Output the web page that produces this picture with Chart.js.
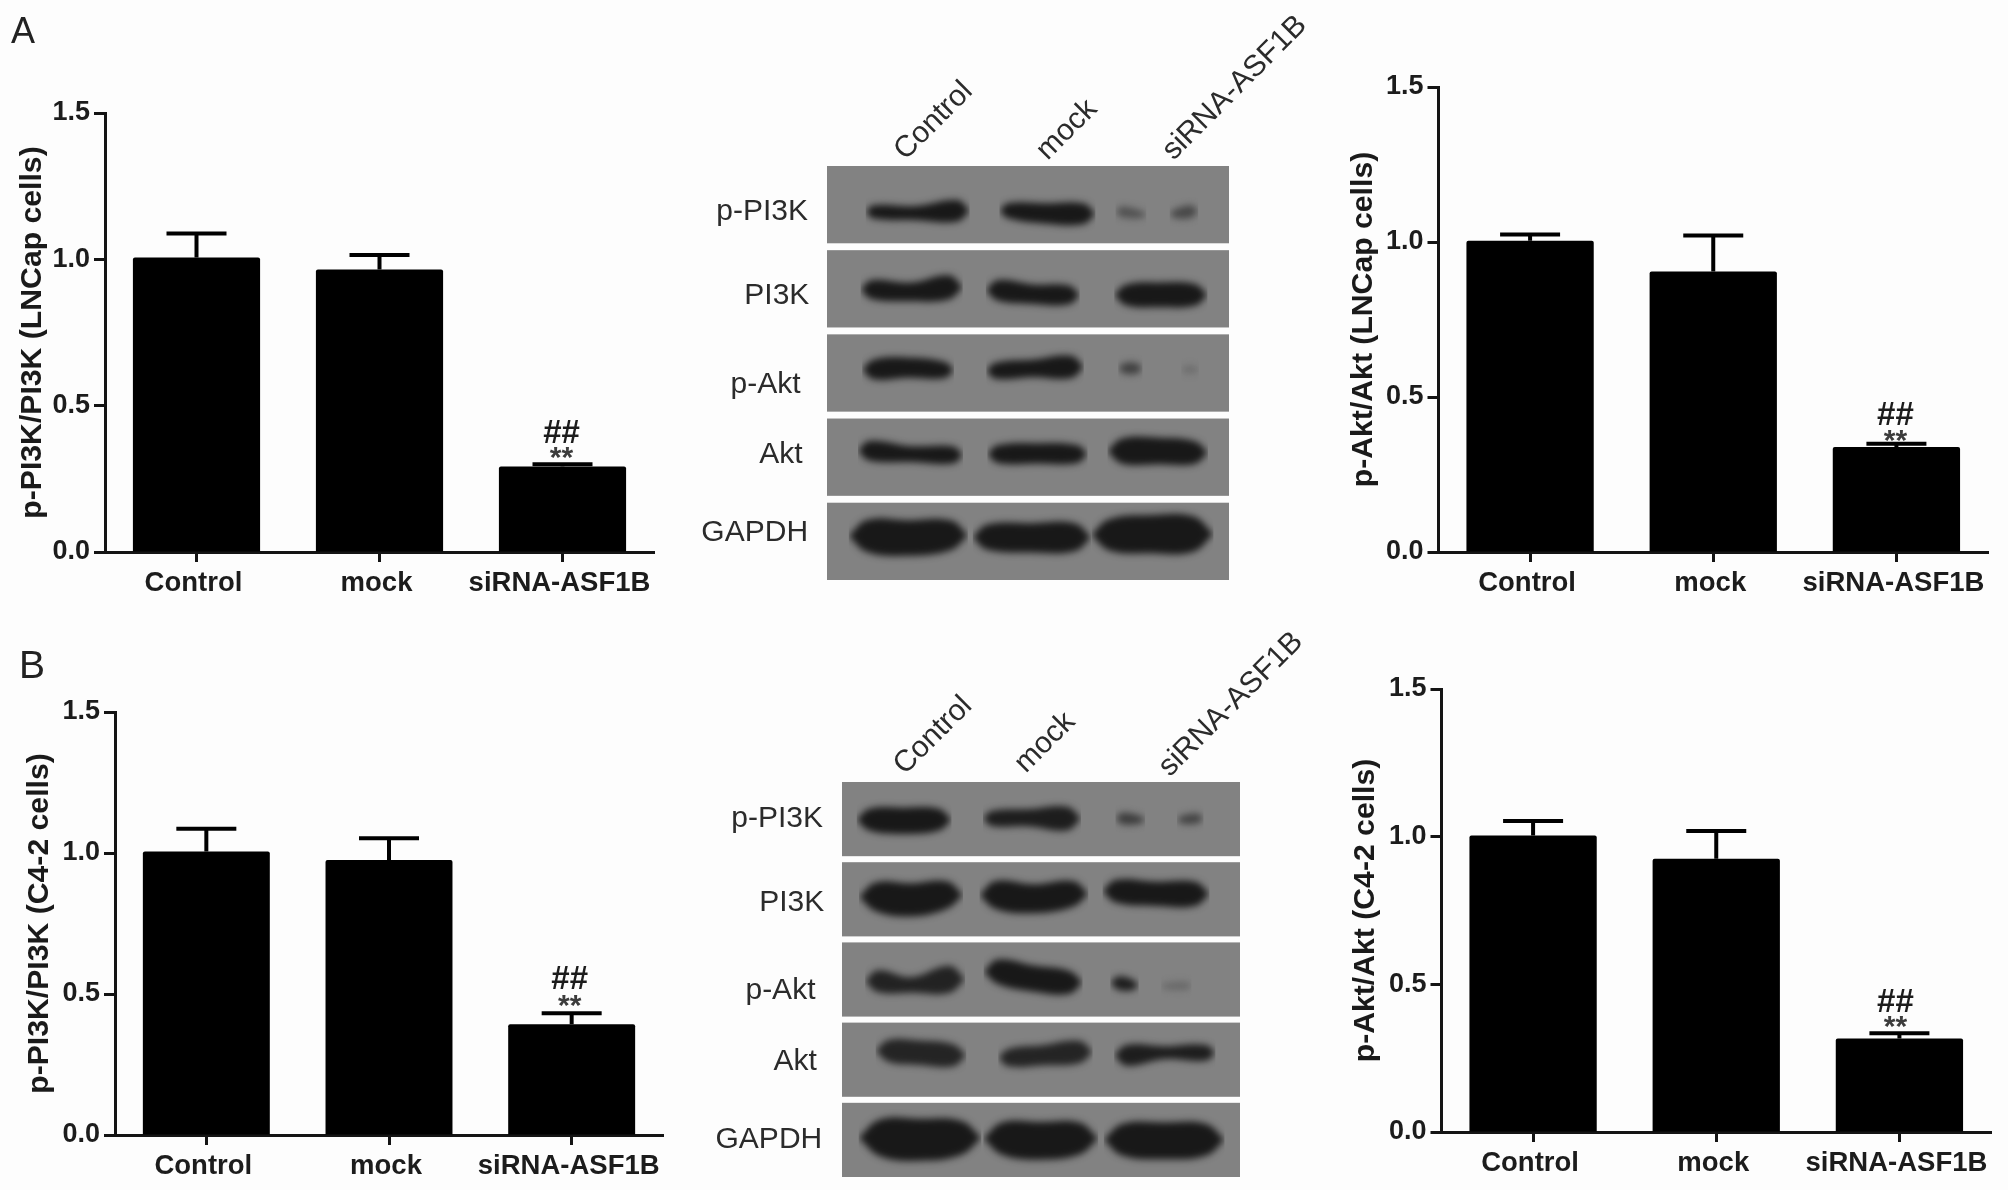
<!DOCTYPE html>
<html>
<head>
<meta charset="utf-8">
<title>p-PI3K and p-Akt</title>
<script src="https://cdn.jsdelivr.net/npm/chart.js@4/dist/chart.umd.js"></script>
<style>
  html, body { margin: 0; padding: 0; background: #fdfdfd; }
  body { position: relative; width: 2008px; height: 1190px; overflow: hidden; }
  canvas { position: absolute; filter: blur(0.5px); }
  .letter { position: absolute; font-family: "Liberation Sans", Arial, sans-serif; color: #222; line-height: 1; filter: blur(0.4px); }
</style>
</head>
<body>
<div class="letter" style="left:11px;top:13px;font-size:36px">A</div>
<div class="letter" style="left:19px;top:645px;font-size:39px">B</div>
<canvas id="barA1"></canvas>
<canvas id="barA2"></canvas>
<canvas id="barB1"></canvas>
<canvas id="barB2"></canvas>
<canvas id="blotA"></canvas>
<canvas id="blotB"></canvas>
<script>
const categories = ['Control', 'mock', 'siRNA-ASF1B'];
const yTicks = [0, 0.5, 1, 1.5];

// bar heights and upper error (value at the top of the whisker)
const pi3kLncap = [1.006, 0.965, 0.292];
const pi3kLncapTop = [1.088, 1.015, 0.30];
const aktLncap = [1.004, 0.905, 0.339];
const aktLncapTop = [1.024, 1.021, 0.349];
const pi3kC42 = [1.005, 0.975, 0.393];
const pi3kC42Top = [1.086, 1.052, 0.432];
const aktC42 = [1.004, 0.925, 0.317];
const aktC42Top = [1.053, 1.019, 0.334];

// blot rows, lane labels
const blotRows = ['p-PI3K', 'PI3K', 'p-Akt', 'Akt', 'GAPDH'];
const blotLanes = ['Control', 'mock', 'siRNA-ASF1B'];

// row label placement and lane label placement, in membrane units
const blotARowRight = [-45, -42, -63, -58, -45];
const blotARowY = [115, 335, 567, 750, 952];
const blotALaneX = [186, 524, 823];
const blotBRowRight = [-45, -42, -63, -60, -47];
const blotBRowY = [93, 315, 550, 737, 945];
const blotBLaneX = [149, 436, 778];

// bands: [row, density, [[x, y in row, band height], ...]], in membrane units
const blotABands = [
  [0, 1.0, [[110, 120, 30], [210, 123, 32], [310, 117, 48]]],
  [0, 1.0, [[430, 117, 34], [520, 124, 46], [610, 125, 46]]],
  [0, 0.45, [[700, 120, 24], [750, 127, 14]]],
  [0, 0.55, [[825, 125, 18], [865, 119, 28]]],
  [1, 1.0, [[105, 103, 42], [200, 109, 42], [290, 97, 54]]],
  [1, 1.0, [[405, 105, 46], [490, 115, 44], [575, 117, 42]]],
  [1, 1.0, [[710, 117, 46], [790, 117, 56], [875, 117, 48]]],
  [2, 1.0, [[110, 92, 44], [190, 87, 46], [280, 93, 36]]],
  [2, 1.0, [[400, 95, 36], [490, 89, 40], [580, 85, 50]]],
  [2, 0.62, [[705, 89, 22], [735, 89, 24]]],
  [2, 0.2, [[850, 92, 14], [875, 92, 14]]],
  [3, 1.0, [[100, 84, 44], [200, 93, 36], [300, 95, 38]]],
  [3, 1.0, [[405, 93, 40], [500, 91, 46], [595, 93, 40]]],
  [3, 1.0, [[700, 85, 56], [790, 85, 60], [875, 89, 50]]],
  [4, 1.0, [[95, 87, 72], [190, 92, 80], [295, 85, 66]]],
  [4, 1.0, [[380, 90, 56], [485, 92, 66], [590, 90, 62]]],
  [4, 1.0, [[670, 84, 70], [770, 82, 86], [870, 82, 80]]]
];
const blotBBands = [
  [0, 1.0, [[65, 100, 50], [145, 103, 60], [230, 100, 50]]],
  [0, 0.95, [[355, 97, 34], [445, 95, 40], [535, 97, 54]]],
  [0, 0.65, [[665, 97, 26], [710, 100, 16]]],
  [0, 0.6, [[805, 100, 16], [845, 97, 22]]],
  [1, 1.0, [[80, 92, 66], [165, 100, 76], [250, 87, 62]]],
  [1, 1.0, [[365, 87, 64], [455, 97, 66], [550, 84, 58]]],
  [1, 1.0, [[650, 77, 52], [745, 84, 56], [840, 84, 54]]],
  [2, 0.9, [[85, 103, 50], [165, 113, 36], [255, 98, 62]]],
  [2, 1.0, [[370, 78, 56], [455, 96, 60], [540, 106, 52]]],
  [2, 0.95, [[655, 108, 30], [690, 113, 24]]],
  [2, 0.25, [[765, 116, 12], [820, 115, 16]]],
  [3, 0.88, [[110, 75, 50], [185, 80, 56], [265, 87, 50]]],
  [3, 0.88, [[395, 93, 40], [475, 87, 46], [565, 78, 50]]],
  [3, 0.95, [[675, 87, 48], [765, 80, 30], [865, 80, 36]]],
  [4, 1.0, [[90, 93, 84], [185, 98, 96], [285, 93, 76]]],
  [4, 1.0, [[380, 95, 74], [470, 101, 86], [565, 95, 72]]],
  [4, 1.0, [[665, 98, 72], [765, 101, 84], [865, 98, 72]]]
];

const fontFamily = '"Liberation Sans", Arial, sans-serif';
const ink = '#141414';

// upper whiskers and the ## / ** marks over the third bar
const whiskers = {
  id: 'whiskers',
  afterDatasetsDraw(chart, args, opts) {
    const { ctx, scales: { x, y } } = chart;
    ctx.save();
    ctx.strokeStyle = '#000';
    ctx.lineWidth = 4;
    opts.tops.forEach((top, i) => {
      const cx = x.getPixelForValue(i);
      const py = y.getPixelForValue(top);
      ctx.beginPath();
      ctx.moveTo(cx, y.getPixelForValue(opts.values[i]));
      ctx.lineTo(cx, py);
      ctx.moveTo(cx - 30, py);
      ctx.lineTo(cx + 30, py);
      ctx.stroke();
    });
    const cx = x.getPixelForValue(2) + opts.markShift;
    ctx.textAlign = 'center';
    ctx.textBaseline = 'alphabetic';
    ctx.font = 'bold 33px ' + fontFamily;
    ctx.fillStyle = '#1c1c1c';
    ctx.fillText('##', cx, y.getPixelForValue(opts.hashAt));
    ctx.font = 'bold 30px ' + fontFamily;
    ctx.fillStyle = '#3c3c3c';
    ctx.fillText('**', cx, y.getPixelForValue(opts.starAt));
    ctx.restore();
  }
};

function barChart(id, title, values, tops, hashAt, starAt, markShift, axisX, axisRight, yTop, yZero, titleGap) {
  const canvas = document.getElementById(id);
  const yWidth = titleGap + 18;
  const xHeight = 60;
  const padTop = 30;
  canvas.width = yWidth + (axisRight - axisX) + 6;
  canvas.height = padTop + (yZero - yTop) + xHeight;
  canvas.style.left = (axisX - yWidth) + 'px';
  canvas.style.top = (yTop - padTop) + 'px';
  return new Chart(canvas, {
    type: 'bar',
    data: {
      labels: categories,
      datasets: [{
        data: values,
        backgroundColor: '#000',
        barPercentage: 0.695,
        categoryPercentage: 1,
        borderRadius: 2
      }]
    },
    options: {
      responsive: false,
      animation: false,
      layout: { padding: { top: padTop, right: 6 } },
      plugins: {
        legend: { display: false },
        tooltip: { enabled: false },
        whiskers: { values, tops, hashAt, starAt, markShift }
      },
      scales: {
        x: {
          afterFit(scale) { scale.height = xHeight; },
          border: { color: ink, width: 3 },
          grid: { offset: false, drawOnChartArea: false, tickLength: 10, tickWidth: 3, tickColor: ink },
          ticks: { color: '#1c1c1c', padding: 5, labelOffset: -3, maxRotation: 0, autoSkip: false, font: { family: fontFamily, size: 27.5, weight: 'bold' } }
        },
        y: {
          min: 0,
          max: 1.5,
          afterFit(scale) { scale.width = yWidth; },
          afterBuildTicks(scale) { scale.ticks = yTicks.map(v => ({ value: v })); },
          border: { color: ink, width: 3 },
          grid: { drawOnChartArea: false, tickLength: 11, tickWidth: 3, tickColor: ink },
          ticks: {
            color: '#1c1c1c',
            padding: 4,
            font: { family: fontFamily, size: 27, weight: 'bold' },
            callback: v => Number(v).toFixed(1)
          },
          title: {
            display: true,
            text: title,
            color: '#1a1a1a',
            padding: 0,
            font: { family: fontFamily, size: 30.2, weight: 'bold' }
          }
        }
      }
    },
    plugins: [whiskers]
  });
}

// grey strips, blurred bands, row and lane labels
const blotPaint = {
  id: 'blotPaint',
  beforeDatasetsDraw(chart, args, opts) {
    const { ctx, scales: { x, y } } = chart;
    ctx.save();
    ctx.fillStyle = '#828282';
    blotRows.forEach((name, row) => {
      const top = y.getPixelForValue(row * opts.rowHeight);
      const bottom = y.getPixelForValue(row * opts.rowHeight + opts.stripHeight);
      ctx.fillRect(x.left, top, x.right - x.left, bottom - top);
    });
    ctx.filter = 'blur(3.5px)';
  },
  afterDatasetsDraw(chart, args, opts) {
    const { ctx, scales: { x, y } } = chart;
    ctx.restore();
    ctx.save();
    ctx.fillStyle = '#2b2b2b';
    ctx.font = '30px ' + fontFamily;
    ctx.textAlign = 'right';
    ctx.textBaseline = 'middle';
    blotRows.forEach((name, row) => {
      ctx.fillText(name, x.getPixelForValue(opts.rowRight[row]), y.getPixelForValue(opts.rowY[row]) + 2);
    });
    ctx.textAlign = 'left';
    ctx.textBaseline = 'alphabetic';
    ctx.font = '30px ' + fontFamily;
    blotLanes.forEach((name, i) => {
      ctx.save();
      ctx.translate(x.getPixelForValue(opts.laneX[i]), y.getPixelForValue(opts.laneY[i]));
      ctx.rotate(-Math.PI / 4);
      ctx.fillText(name, 0, 0);
      ctx.restore();
    });
    ctx.restore();
  }
};

// each band is a filled shape between an upper and a lower edge line
function bandEdges([row, density, points], rowHeight) {
  const grey = Math.round(128 - 104 * density);
  const first = points[0];
  const last = points[points.length - 1];
  const edge = (sign) => [
    { x: first[0] - first[2] * 0.6, y: row * rowHeight + first[1] },
    ...points.map(([x, y, h]) => ({ x, y: row * rowHeight + y + sign * h * 0.58 })),
    { x: last[0] + last[2] * 0.6, y: row * rowHeight + last[1] }
  ];
  const style = { backgroundColor: `rgb(${grey},${grey},${grey})`, borderWidth: 0, tension: 0.4, pointRadius: 0, clip: false };
  return [
    { ...style, data: edge(-1), fill: '+1' },
    { ...style, data: edge(1), fill: false }
  ];
}

function blotChart(id, bands, left, right, top, bottom, xMax, rowHeight, stripHeight, rowRight, rowY, laneX, laneY) {
  const canvas = document.getElementById(id);
  const padLeft = 290, padTop = 160, padRight = 110, padBottom = 4;
  canvas.width = padLeft + (right - left) + padRight;
  canvas.height = padTop + (bottom - top) + padBottom;
  canvas.style.left = (left - padLeft) + 'px';
  canvas.style.top = (top - padTop) + 'px';
  const yMax = rowHeight * blotRows.length - (rowHeight - stripHeight);
  return new Chart(canvas, {
    type: 'line',
    data: { datasets: bands.flatMap(b => bandEdges(b, rowHeight)) },
    options: {
      responsive: false,
      animation: false,
      layout: { padding: { left: padLeft, top: padTop, right: padRight, bottom: padBottom } },
      plugins: {
        legend: { display: false },
        tooltip: { enabled: false },
        blotPaint: { rowHeight, stripHeight, rowRight, rowY, laneX, laneY }
      },
      scales: {
        x: { type: 'linear', display: false, min: 0, max: xMax },
        y: { type: 'linear', display: false, reverse: true, min: 0, max: yMax }
      }
    },
    plugins: [blotPaint]
  });
}

barChart('barA1', 'p-PI3K/PI3K (LNCap cells)', pi3kLncap, pi3kLncapTop, 0.374, 0.29, -1, 105, 654, 113, 552, 72);
barChart('barA2', 'p-Akt/Akt (LNCap cells)', aktLncap, aktLncapTop, 0.41, 0.33, -1, 1438, 1988, 87, 552, 74.5);
barChart('barB1', 'p-PI3K/PI3K (C4-2 cells)', pi3kC42, pi3kC42Top, 0.518, 0.425, -2, 115, 663, 712, 1135, 75);
barChart('barB2', 'p-Akt/Akt (C4-2 cells)', aktC42, aktC42Top, 0.407, 0.325, -4, 1441, 1991, 689, 1132, 75.5);

blotChart('blotA', blotABands, 827, 1229, 166, 580, 955, 220, 202,
  blotARowRight, blotARowY, blotALaneX, [-13, -13, -13]);
blotChart('blotB', blotBBands, 842, 1240, 782, 1177, 945, 213, 197,
  blotBRowRight, blotBRowY, blotBLaneX, [-17, -22, -12]);
</script>
</body>
</html>
